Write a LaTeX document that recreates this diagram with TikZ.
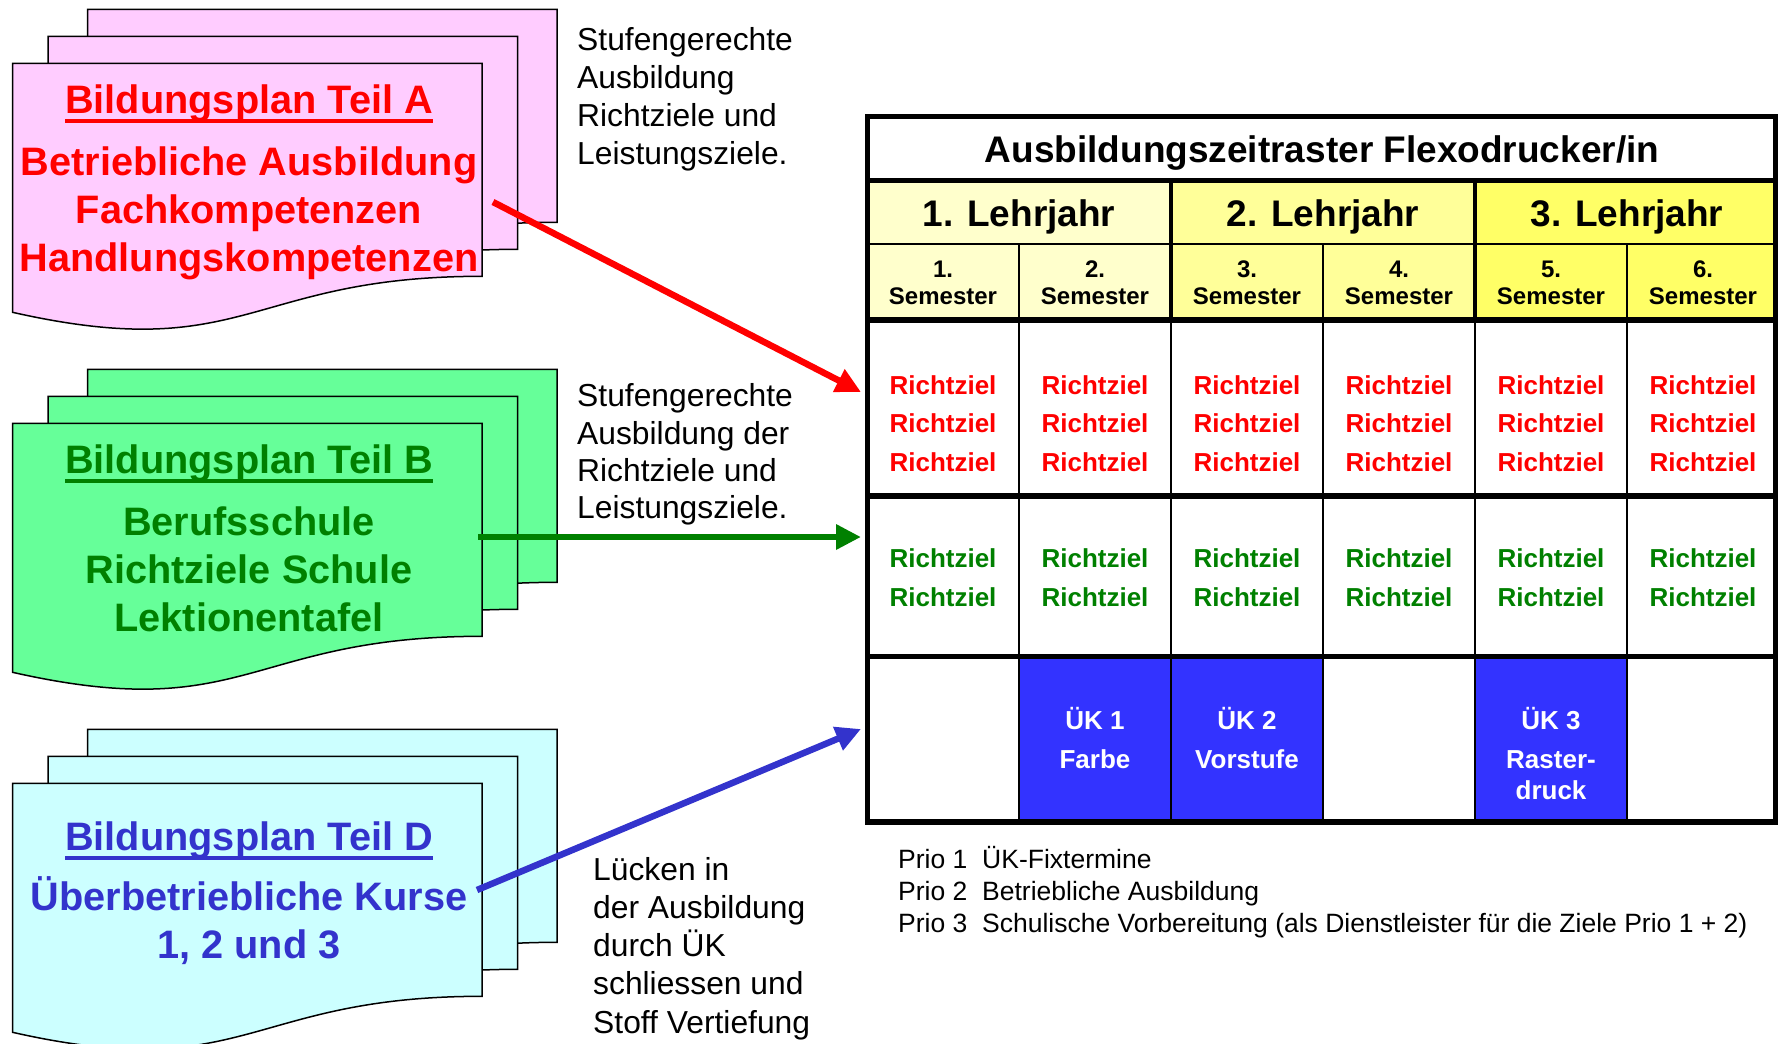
\documentclass[tikz,border=0pt]{standalone}
\usepackage{fontspec}
\setmainfont{Liberation Sans}
\usetikzlibrary{arrows.meta}
\definecolor{pinkF}{HTML}{FFCCFF}
\definecolor{greenF}{HTML}{66FF99}
\definecolor{cyanF}{HTML}{CCFFFF}
\definecolor{redT}{HTML}{FF0000}
\definecolor{greenT}{HTML}{008000}
\definecolor{blueT}{HTML}{3333CC}
\definecolor{ykA}{HTML}{FFFFCC}
\definecolor{ykB}{HTML}{FFFF99}
\definecolor{ykC}{HTML}{FFFF66}
\definecolor{ukblue}{HTML}{3333FF}
\newcommand\myul[1]{\setbox0=\hbox{#1}\rlap{\rule[-9.5pt]{\wd0}{4pt}}\box0}
\newcommand\docsheet[3]{%
  \begin{scope}[shift={(#2,#3)}]
    \filldraw[sheet,fill=#1] (0,0) -- (469.5,0) -- (469.5,213)
      .. controls (234.75,213) and (234.75,302) .. (0,249) -- cycle;
  \end{scope}}
\tikzset{
  sheet/.style={draw=black, line width=1.5pt, line join=miter},
  sheettxt/.style={anchor=base, inner sep=0pt, font=\fontsize{39.7}{47}\selectfont\bfseries},
  desc/.style={anchor=base west, inner sep=0pt, font=\fontsize{31.8}{38}\selectfont},
  celltxt/.style={anchor=base, inner sep=0pt, font=\fontsize{26}{31}\selectfont\bfseries},
  semtxt/.style={anchor=base, inner sep=0pt, font=\fontsize{24}{29}\selectfont\bfseries},
  yeartxt/.style={anchor=base, inner sep=0pt, font=\fontsize{37}{44}\selectfont\bfseries},
  priotxt/.style={anchor=base west, inner sep=0pt, font=\fontsize{26.5}{31}\selectfont},
  conn/.style={line width=6.5pt, -{Triangle[length=25pt,width=24pt]}},
  thickrule/.style={line width=5.5pt},
  thinrule/.style={line width=2.3pt}
}
\begin{document}
\begin{tikzpicture}[x=1pt,y=-1pt]
\useasboundingbox (0,0) rectangle (1778,1044);

% ---------- stacked documents ----------
\foreach \yy/\col in {9.3/pinkF, 369.3/greenF, 729.3/cyanF} {
  \docsheet{\col}{87.5}{\yy}
  \docsheet{\col}{48}{\yy+27}
  \docsheet{\col}{12.5}{\yy+54}
}

% Teil A
\node[sheettxt, text=redT] (aT) at (249,113) {\myul{Bildungsplan Teil A}};
\node[sheettxt, text=redT] (a1) at (249,175) {Betriebliche Ausbildung};
\node[sheettxt, text=redT] (a2) at (249,223) {Fachkompetenzen};
\node[sheettxt, text=redT] (a3) at (249,271) {Handlungskompetenzen};
% Teil B
\node[sheettxt, text=greenT] (bT) at (249,473) {\myul{Bildungsplan Teil B}};
\node[sheettxt, text=greenT] (b1) at (249,535) {Berufsschule};
\node[sheettxt, text=greenT] (b2) at (249,583) {Richtziele Schule};
\node[sheettxt, text=greenT] (b3) at (249,631) {Lektionentafel};
% Teil D
\node[sheettxt, text=blueT] (dT) at (249,850) {\myul{Bildungsplan Teil D}};
\node[sheettxt, text=blueT] (d1) at (249,910) {Überbetriebliche Kurse};
\node[sheettxt, text=blueT] (d2) at (249,958) {1, 2 und 3};

% ---------- descriptive texts ----------
\foreach \t/\y [count=\i] in {Stufengerechte/50, Ausbildung/88, Richtziele und/126, Leistungsziele./164}
  \node[desc] (da\i) at (577,\y) {\t};
\foreach \t/\y [count=\i] in {Stufengerechte/406, Ausbildung der/444, Richtziele und/481, Leistungsziele./518}
  \node[desc] (db\i) at (577,\y) {\t};
\foreach \t/\y [count=\i] in {Lücken in/880, der Ausbildung/918, durch ÜK/956, schliessen und/994, Stoff Vertiefung/1033}
  \node[desc] (dd\i) at (593,\y) {\t};

% ---------- table ----------
\fill[ykA] (867.5,180.5) rectangle (1171,320);
\fill[ykB] (1171,180.5) rectangle (1475,320);
\fill[ykC] (1475,180.5) rectangle (1776,320);
\fill[ukblue] (1019,656.5) rectangle (1171,822);
\fill[ukblue] (1171,656.5) rectangle (1323,822);
\fill[ukblue] (1475,656.5) rectangle (1627,822);

\draw[thinrule] (867.5,244) -- (1776,244);
\foreach \x in {1019,1323,1627} \draw[thinrule] (\x,244) -- (\x,822);
\foreach \x in {1171,1475} {
  \draw[line width=4.5pt] (\x,180.5) -- (\x,320);
  \draw[line width=2.6pt] (\x,320) -- (\x,822);
}
\foreach \y in {180.5,320,496,656.5} \draw[thickrule] (867.5,\y) -- (1776,\y);
\draw[thickrule] (867.5,116.5) rectangle (1776,822);

\node[yeartxt] (ttl) at (1322,162) {Ausbildungszeitraster Flexodrucker/in};
\foreach \x/\n in {1019/1, 1323/2, 1627/3}
  \node[yeartxt] (year\n) at (\x,226) {\n. Lehrjahr};
\foreach \x [count=\i] in {943,1095,1247,1399,1551,1703} {
  \node[semtxt] (semn\i) at (\x,277) {\i.};
  \node[semtxt] (sem\i) at (\x,304) {Semester};
  \node[celltxt, text=redT] (rz\i-1) at (\x,394) {Richtziel};
  \node[celltxt, text=redT] (rz\i-2) at (\x,432.5) {Richtziel};
  \node[celltxt, text=redT] (rz\i-3) at (\x,471) {Richtziel};
  \node[celltxt, text=greenT] (gz\i-1) at (\x,567.5) {Richtziel};
  \node[celltxt, text=greenT] (gz\i-2) at (\x,606) {Richtziel};
}
\node[celltxt, text=white] (uk1a) at (1095,729.5) {ÜK 1};
\node[celltxt, text=white] (uk1b) at (1095,768) {Farbe};
\node[celltxt, text=white] (uk2a) at (1247,729.5) {ÜK 2};
\node[celltxt, text=white] (uk2b) at (1247,768) {Vorstufe};
\node[celltxt, text=white] (uk3a) at (1551,729.5) {ÜK 3};
\node[celltxt, text=white] (uk3b) at (1551,768) {Raster-};
\node[celltxt, text=white] (uk3c) at (1551,799) {druck};

% ---------- priorities ----------
\node[priotxt] (p1) at (898,868) {Prio 1};
\node[priotxt] (p1t) at (982,868) {ÜK-Fixtermine};
\node[priotxt] (p2) at (898,900) {Prio 2};
\node[priotxt] (p2t) at (982,900) {Betriebliche Ausbildung};
\node[priotxt] (p3) at (898,932) {Prio 3};
\node[priotxt] (p3t) at (982,932) {Schulische Vorbereitung (als Dienstleister für die Ziele Prio 1 + 2)};

% ---------- connectors ----------
\coordinate (sa) at (493,202);
\coordinate (ta) at (861,392);
\coordinate (sb) at (478,537);
\coordinate (tb) at (861,537);
\coordinate (sd) at (477,890);
\coordinate (td) at (861,729);
\draw[conn, draw=redT, fill=redT] (sa) -- (ta);
\draw[conn, draw=greenT, fill=greenT] (sb) -- (tb);
\draw[conn, draw=blueT, fill=blueT] (sd) -- (td);
\end{tikzpicture}
\end{document}
